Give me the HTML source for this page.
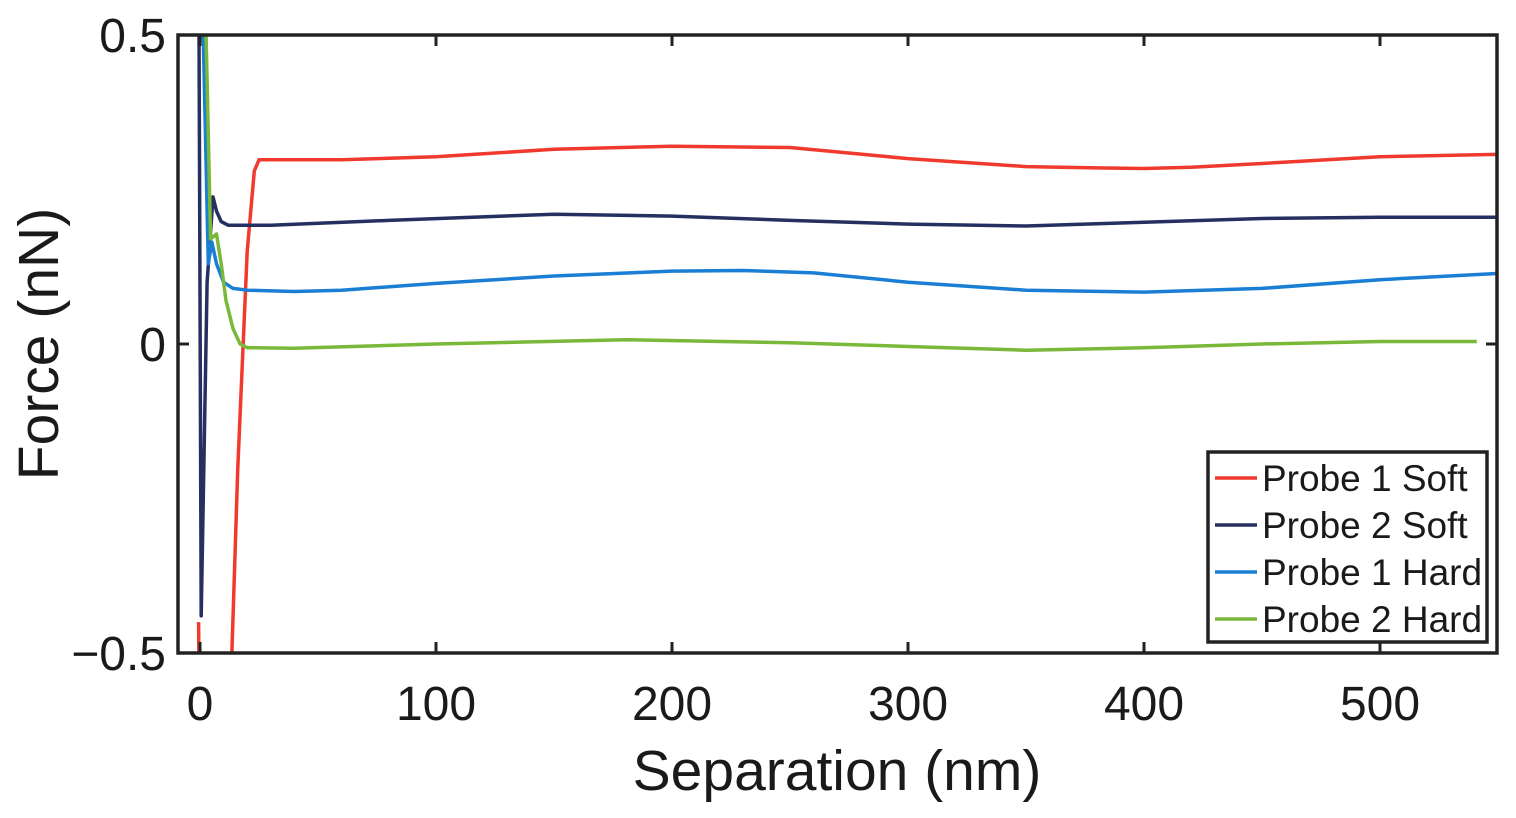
<!DOCTYPE html>
<html><head><meta charset="utf-8"><style>
body{margin:0;background:#fff;width:1516px;height:813px;overflow:hidden}
svg text{font-family:"Liberation Sans",sans-serif;fill:#1a1a1a}
</style></head><body>
<svg id="chart" width="1516" height="813" xmlns="http://www.w3.org/2000/svg"></svg>
<script>
const xTicks=[0,100,200,300,400,500];
const yTicks=[-0.5,0,0.5];
const yTickLabels=["\u22120.5","0","0.5"];
const seriesNames=["Probe 1 Soft","Probe 2 Soft","Probe 1 Hard","Probe 2 Hard"];
const seriesColors=["#f03a2e","#263060","#1a7fd4","#7ab83a"];
const p1SoftX=[-0.6,-0.2,12.5,16,20,23,25,30,60,100,150,200,250,300,350,380,400,420,450,500,550];
const p1SoftY=[-0.45,-0.62,-0.62,-0.2,0.15,0.28,0.298,0.298,0.298,0.303,0.315,0.32,0.318,0.3,0.287,0.285,0.284,0.286,0.292,0.303,0.307];
const p2SoftX=[-0.5,0.5,3,5.5,7,9,12,30,80,150,200,250,300,350,400,450,500,550];
const p2SoftY=[0.6,-0.44,0.1,0.238,0.215,0.198,0.192,0.192,0.2,0.21,0.207,0.2,0.194,0.191,0.197,0.203,0.205,0.205];
const p1HardX=[0.8,3.5,5,7,10,14,20,40,60,100,150,200,230,260,300,350,400,450,500,550];
const p1HardY=[0.6,0.13,0.165,0.13,0.1,0.09,0.087,0.085,0.087,0.098,0.11,0.118,0.119,0.115,0.1,0.087,0.084,0.09,0.104,0.114];
const p2HardX=[2,4.5,7,9,11,14,17,20,40,100,180,250,300,350,400,450,500,541];
const p2HardY=[0.6,0.17,0.178,0.13,0.07,0.025,0.0,-0.006,-0.007,0.0,0.007,0.002,-0.004,-0.01,-0.006,0.0,0.004,0.004];
const L=178,R=1497,T=35,B=653;
const xs=v=>200+(v)*2.36;
const ys=v=>344-v*618;
const svg=document.getElementById('chart');
const NS="http://www.w3.org/2000/svg";
function mk(tag,attrs){const e=document.createElementNS(NS,tag);for(const k in attrs)e.setAttribute(k,attrs[k]);svg.appendChild(e);return e;}
const defs=mk('defs',{});const cp=document.createElementNS(NS,'clipPath');cp.setAttribute('id','clip');defs.appendChild(cp);
const cr=document.createElementNS(NS,'rect');cr.setAttribute('x',L);cr.setAttribute('y',T);cr.setAttribute('width',R-L);cr.setAttribute('height',B-T);cp.appendChild(cr);
const allX=[p1SoftX,p2SoftX,p1HardX,p2HardX],allY=[p1SoftY,p2SoftY,p1HardY,p2HardY];
const sNames=['probe-1-soft-line','probe-2-soft-line','probe-1-hard-line','probe-2-hard-line'];
for(let s=0;s<4;s++){
 const d=allX[s].map((x,i)=>(i?'L':'M')+xs(x).toFixed(1)+','+ys(allY[s][i]).toFixed(1)).join(' ');
 const p=mk('path',{d:d,fill:'none',stroke:seriesColors[s],'stroke-width':3.5,'clip-path':'url(#clip)','stroke-linejoin':'round'});
 
 
}
const box=mk('rect',{x:L,y:T,width:R-L,height:B-T,fill:'none',stroke:'#222','stroke-width':3.5});


xTicks.forEach(v=>{const x=xs(v);
 mk('line',{x1:x,x2:x,y1:B,y2:B-11,stroke:'#222','stroke-width':3});
 mk('line',{x1:x,x2:x,y1:T,y2:T+11,stroke:'#222','stroke-width':3});
 const t=mk('text',{x:x,y:B+67,'text-anchor':'middle','font-size':48});t.textContent=v;
 
 
});
yTicks.forEach((v,i)=>{const y=ys(v);
 mk('line',{x1:L,x2:L+11,y1:y,y2:y,stroke:'#222','stroke-width':3});
 mk('line',{x1:R,x2:R-11,y1:y,y2:y,stroke:'#222','stroke-width':3});
 const t=mk('text',{x:L-12,y:y+17,'text-anchor':'end','font-size':48});t.textContent=yTickLabels[i];
 
 
});
const xt=mk('text',{x:837,y:790,'text-anchor':'middle','font-size':57});xt.textContent='Separation (nm)';


const yt=mk('text',{x:0,y:0,'text-anchor':'middle','font-size':57,transform:'translate(58,344) rotate(-90)'});yt.textContent='Force (nN)';


const lg=mk('rect',{x:1208,y:452,width:279,height:190,fill:'#fff',stroke:'#222','stroke-width':3.5});


seriesNames.forEach((n,i)=>{const y=478+i*47;
 mk('line',{x1:1215,x2:1257,y1:y,y2:y,stroke:seriesColors[i],'stroke-width':3.5});
 const t=mk('text',{x:1262,y:y+13,'font-size':37});t.textContent=n;
 
 
});
</script>
</body></html>
